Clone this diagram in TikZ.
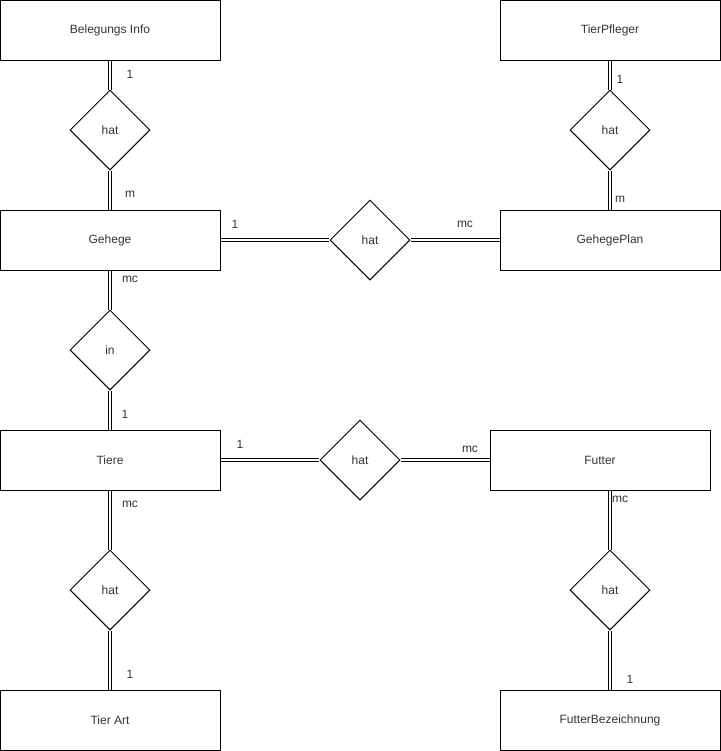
\documentclass[tikz,border=0pt]{standalone}
\usepackage{fontspec}
\setmainfont{Liberation Sans}
\usepackage{tikz}
\usetikzlibrary{shapes.geometric, positioning, calc}

\begin{document}
\begin{tikzpicture}[
  x=0.75pt, y=-0.75pt,
  entity/.style={
    rectangle,
    draw=black,
    line width=0.75pt,
    minimum width=165pt,
    minimum height=45pt,
    font=\small,
    text=black!80
  },
  relation/.style={
    diamond,
    draw=black,
    line width=0.75pt,
    minimum width=60pt,
    minimum height=60pt,
    inner sep=0pt,
    font=\small,
    text=black!80
  },
  link/.style={double, double distance=1.5pt, line width=0.75pt},
  card/.style={font=\small, text=black!80, inner sep=0pt}
]
  \useasboundingbox (0,0) rectangle (721,751);

  % entities
  \node[entity] (info) at (110,30) {Belegungs Info};
  \node[entity] (pfleger) at (610,30) {TierPfleger};
  \node[entity] (gehege) at (110,240) {Gehege};
  \node[entity] (plan) at (610,240) {GehegePlan};
  \node[entity] (tiere) at (110,460) {Tiere};
  \node[entity] (futter) at (600,460) {Futter};
  \node[entity] (art) at (110,720) {Tier Art};
  \node[entity] (bez) at (610,720) {FutterBezeichnung};

  % relations
  \node[relation] (hatinfo) at (110,130) {hat};
  \node[relation] (hatpfleger) at (610,130) {hat};
  \node[relation] (hatplan) at (370,240) {hat};
  \node[relation] (in) at (110,350) {in};
  \node[relation] (hatfutter) at (360,460) {hat};
  \node[relation] (hatart) at (110,590) {hat};
  \node[relation] (hatbez) at (610,590) {hat};

  % connectors
  \draw[link] (info) -- (hatinfo);
  \draw[link] (hatinfo) -- (gehege);
  \draw[link] (pfleger) -- (hatpfleger);
  \draw[link] (hatpfleger) -- (plan);
  \draw[link] (gehege) -- (hatplan);
  \draw[link] (hatplan) -- (plan);
  \draw[link] (gehege) -- (in);
  \draw[link] (in) -- (tiere);
  \draw[link] (tiere) -- (hatfutter);
  \draw[link] (hatfutter) -- (futter);
  \draw[link] (tiere) -- (hatart);
  \draw[link] (hatart) -- (art);
  \draw[link] (hatbez |- futter.south) -- (hatbez);
  \draw[link] (hatbez) -- (bez);

  % cardinalities
  \node[card] (c1) at (130,74) {1};
  \node[card] (c2) at (130,194) {m};
  \node[card] (c3) at (620,79) {1};
  \node[card] (c4) at (620,199) {m};
  \node[card] (c5) at (235,224) {1};
  \node[card] (c6) at (465,224) {mc};
  \node[card] (c7) at (130,279) {mc};
  \node[card] (c8) at (125,414) {1};
  \node[card] (c9) at (240,444) {1};
  \node[card] (c10) at (470,449) {mc};
  \node[card] (c11) at (130,504) {mc};
  \node[card] (c12) at (130,674) {1};
  \node[card] (c13) at (620,499) {mc};
  \node[card] (c14) at (630,679) {1};
\end{tikzpicture}
\end{document}
